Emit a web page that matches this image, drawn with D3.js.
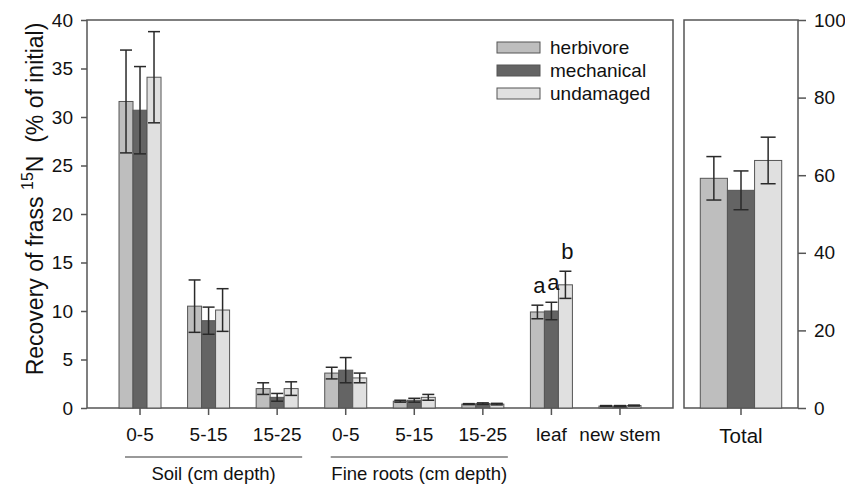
<!DOCTYPE html>
<html>
<head>
<script src="https://d3js.org/d3.v7.min.js"></script>
<style>
  body { margin: 0; background: #fff; }
  text { font-family: Arial, "Liberation Sans", sans-serif; fill: #111; }
</style>
</head>
<body>
<div id="chart"></div>
<script>
// category labels of the left panel
var categories = ["0-5", "5-15", "15-25", "0-5", "5-15", "15-25", "leaf", "new stem"];
var series = ["herbivore", "mechanical", "undamaged"];

// recovery (% of initial) and standard errors
var herbivore    = [31.6, 10.5, 2.0, 3.6, 0.7, 0.4, 9.9, 0.2];
var herbivoreSE  = [5.3, 2.7, 0.6, 0.6, 0.1, 0.05, 0.7, 0.05];
var mechanical   = [30.7, 9.0, 1.1, 3.9, 0.8, 0.45, 10.0, 0.2];
var mechanicalSE = [4.5, 1.4, 0.4, 1.3, 0.2, 0.08, 0.9, 0.05];
var undamaged    = [34.1, 10.1, 2.0, 3.1, 1.1, 0.4, 12.7, 0.25];
var undamagedSE  = [4.7, 2.2, 0.7, 0.5, 0.3, 0.08, 1.4, 0.05];

var totals   = [59.2, 56.1, 63.8];
var totalsSE = [5.6, 5.0, 6.0];

var leftTicks  = [0, 5, 10, 15, 20, 25, 30, 35, 40];
var rightTicks = [0, 20, 40, 60, 80, 100];
var letters = ["a", "a", "b"];   // significance letters over "leaf"

var colors = { herbivore: "#bebebe", mechanical: "#646464", undamaged: "#e0e0e0" };
var lineCol = "#555";

var W = 845, H = 486;
var svg = d3.select("#chart").append("svg")
    .attr("width", W).attr("height", H);

var plotTop = 20, plotBottom = 408;
var lx0 = 87, lx1 = 673, rx0 = 684, rx1 = 798;

var yL = d3.scaleLinear().domain([0, 40]).range([plotBottom, plotTop]);
var yR = d3.scaleLinear().domain([0, 100]).range([plotBottom, plotTop]);

var x = d3.scaleBand().domain(d3.range(categories.length))
    .range([lx0, lx1]).paddingInner(0.3875).paddingOuter(0.467);
var xs = d3.scaleBand().domain(series).range([0, x.bandwidth()]);

var xR = d3.scaleBand().domain(["Total"]).range([rx0, rx1]).paddingInner(0).paddingOuter(0.2);
var xsR = d3.scaleBand().domain(series).range([0, xR.bandwidth()]);

var values = { herbivore: herbivore, mechanical: mechanical, undamaged: undamaged };
var ses = { herbivore: herbivoreSE, mechanical: mechanicalSE, undamaged: undamagedSE };

var leftData = [];
categories.forEach(function(c, i) {
    series.forEach(function(s) {
        leftData.push({ i: i, s: s, v: values[s][i], se: ses[s][i] });
    });
});

// frames
svg.append("rect").attr("x", lx0).attr("y", plotTop).attr("width", lx1 - lx0).attr("height", plotBottom - plotTop)
    .attr("fill", "none").attr("stroke", lineCol).attr("stroke-width", 1.5);
svg.append("rect").attr("x", rx0).attr("y", plotTop).attr("width", rx1 - rx0).attr("height", plotBottom - plotTop)
    .attr("fill", "none").attr("stroke", lineCol).attr("stroke-width", 1.5);

// left bars
var gL = svg.append("g");
gL.selectAll("rect.bar").data(leftData).enter().append("rect")
    .attr("class", "bar")
    .attr("x", function(d) { return x(d.i) + xs(d.s); })
    .attr("width", xs.bandwidth())
    .attr("y", function(d) { return yL(d.v); })
    .attr("height", function(d) { return yL(0) - yL(d.v); })
    .attr("fill", function(d) { return colors[d.s]; })
    .attr("stroke", lineCol).attr("stroke-width", 1);

function errorBars(g, data, xf, yf, cap) {
    var e = g.selectAll("g.err").data(data).enter().append("g").attr("class", "err")
        .attr("stroke", "#2a2a2a").attr("stroke-width", 1.5);
    e.append("line")
        .attr("x1", xf).attr("x2", xf)
        .attr("y1", function(d) { return yf(d.v - d.se); })
        .attr("y2", function(d) { return yf(d.v + d.se); });
    e.append("line")
        .attr("x1", function(d) { return xf(d) - cap / 2; })
        .attr("x2", function(d) { return xf(d) + cap / 2; })
        .attr("y1", function(d) { return yf(d.v + d.se); })
        .attr("y2", function(d) { return yf(d.v + d.se); });
    e.append("line")
        .attr("x1", function(d) { return xf(d) - cap / 2; })
        .attr("x2", function(d) { return xf(d) + cap / 2; })
        .attr("y1", function(d) { return yf(d.v - d.se); })
        .attr("y2", function(d) { return yf(d.v - d.se); });
}

errorBars(gL, leftData, function(d) { return x(d.i) + xs(d.s) + xs.bandwidth() / 2; }, yL, 12);

// significance letters over leaf
var leafIdx = categories.indexOf("leaf");
gL.selectAll("text.sig").data(series).enter().append("text")
    .attr("class", "sig")
    .attr("x", function(s) { return x(leafIdx) + xs(s) + xs.bandwidth() / 2 + 2; })
    .attr("y", function(s) { return yL(values[s][leafIdx] + ses[s][leafIdx]) - 12; })
    .attr("text-anchor", "middle")
    .attr("font-size", 22)
    .text(function(s, k) { return letters[k]; });

// right bars
var rightData = series.map(function(s, k) { return { s: s, v: totals[k], se: totalsSE[k] }; });
var gR = svg.append("g");
gR.selectAll("rect.bar").data(rightData).enter().append("rect")
    .attr("class", "bar")
    .attr("x", function(d) { return xR("Total") + xsR(d.s); })
    .attr("width", xsR.bandwidth())
    .attr("y", function(d) { return yR(d.v); })
    .attr("height", function(d) { return yR(0) - yR(d.v); })
    .attr("fill", function(d) { return colors[d.s]; })
    .attr("stroke", lineCol).attr("stroke-width", 1);
errorBars(gR, rightData, function(d) { return xR("Total") + xsR(d.s) + xsR.bandwidth() / 2; }, yR, 15);

// axes
function styleAxis(g) {
    g.select(".domain").remove();
    g.selectAll(".tick line").attr("stroke", lineCol).attr("stroke-width", 1.5);
    g.selectAll(".tick text").attr("font-size", 19).attr("fill", "#111")
        .attr("font-family", "Arial, 'Liberation Sans', sans-serif");
}

svg.append("g").attr("transform", "translate(" + lx0 + ",0)")
    .call(d3.axisLeft(yL).tickValues(leftTicks).tickSize(6).tickPadding(8))
    .call(styleAxis);

svg.append("g").attr("transform", "translate(" + rx1 + ",0)")
    .call(d3.axisRight(yR).tickValues(rightTicks).tickSize(8).tickPadding(8))
    .call(styleAxis);

svg.append("g").attr("transform", "translate(0," + plotBottom + ")")
    .call(d3.axisBottom(x).tickSize(7).tickPadding(13).tickFormat(function(i) { return categories[i]; }))
    .call(styleAxis);

svg.append("g").attr("transform", "translate(0," + plotBottom + ")")
    .call(d3.axisBottom(xR).tickSize(7).tickPadding(13))
    .call(styleAxis)
    .selectAll(".tick text").attr("font-size", 20.5);

// group labels under the axis
var groups = [
    { label: "Soil (cm depth)", from: 0, to: 2 },
    { label: "Fine roots (cm depth)", from: 3, to: 5 }
];
var gg = svg.append("g").selectAll("g").data(groups).enter().append("g");
gg.append("line")
    .attr("x1", function(d) { return x(d.from) + x.bandwidth() / 2 - 15; })
    .attr("x2", function(d) { return x(d.to) + x.bandwidth() / 2 + 25; })
    .attr("y1", 457).attr("y2", 457)
    .attr("stroke", "#777").attr("stroke-width", 1.5);
gg.append("text")
    .attr("x", function(d) { return (x(d.from) + x(d.to) + x.bandwidth()) / 2 + 5; })
    .attr("y", 480)
    .attr("text-anchor", "middle")
    .attr("font-size", 18.5)
    .text(function(d) { return d.label; });

// y axis title
var title = svg.append("text")
    .attr("transform", "translate(43,199) rotate(-90)")
    .attr("text-anchor", "middle")
    .attr("font-size", 23);
title.append("tspan").text("Recovery of frass ");
title.append("tspan").attr("font-size", 16).attr("dy", -10).text("15");
title.append("tspan").attr("dy", 10).text("N\u00a0\u00a0(% of initial)");

// legend
var leg = svg.append("g").attr("transform", "translate(497,42)");
var li = leg.selectAll("g").data(series).enter().append("g")
    .attr("transform", function(d, k) { return "translate(0," + (k * 23) + ")"; });
li.append("rect").attr("width", 43).attr("height", 11)
    .attr("fill", function(d) { return colors[d]; })
    .attr("stroke", lineCol).attr("stroke-width", 1);
li.append("text").attr("x", 53).attr("y", 12).attr("font-size", 19).text(function(d) { return d; });
</script>
</body>
</html>
